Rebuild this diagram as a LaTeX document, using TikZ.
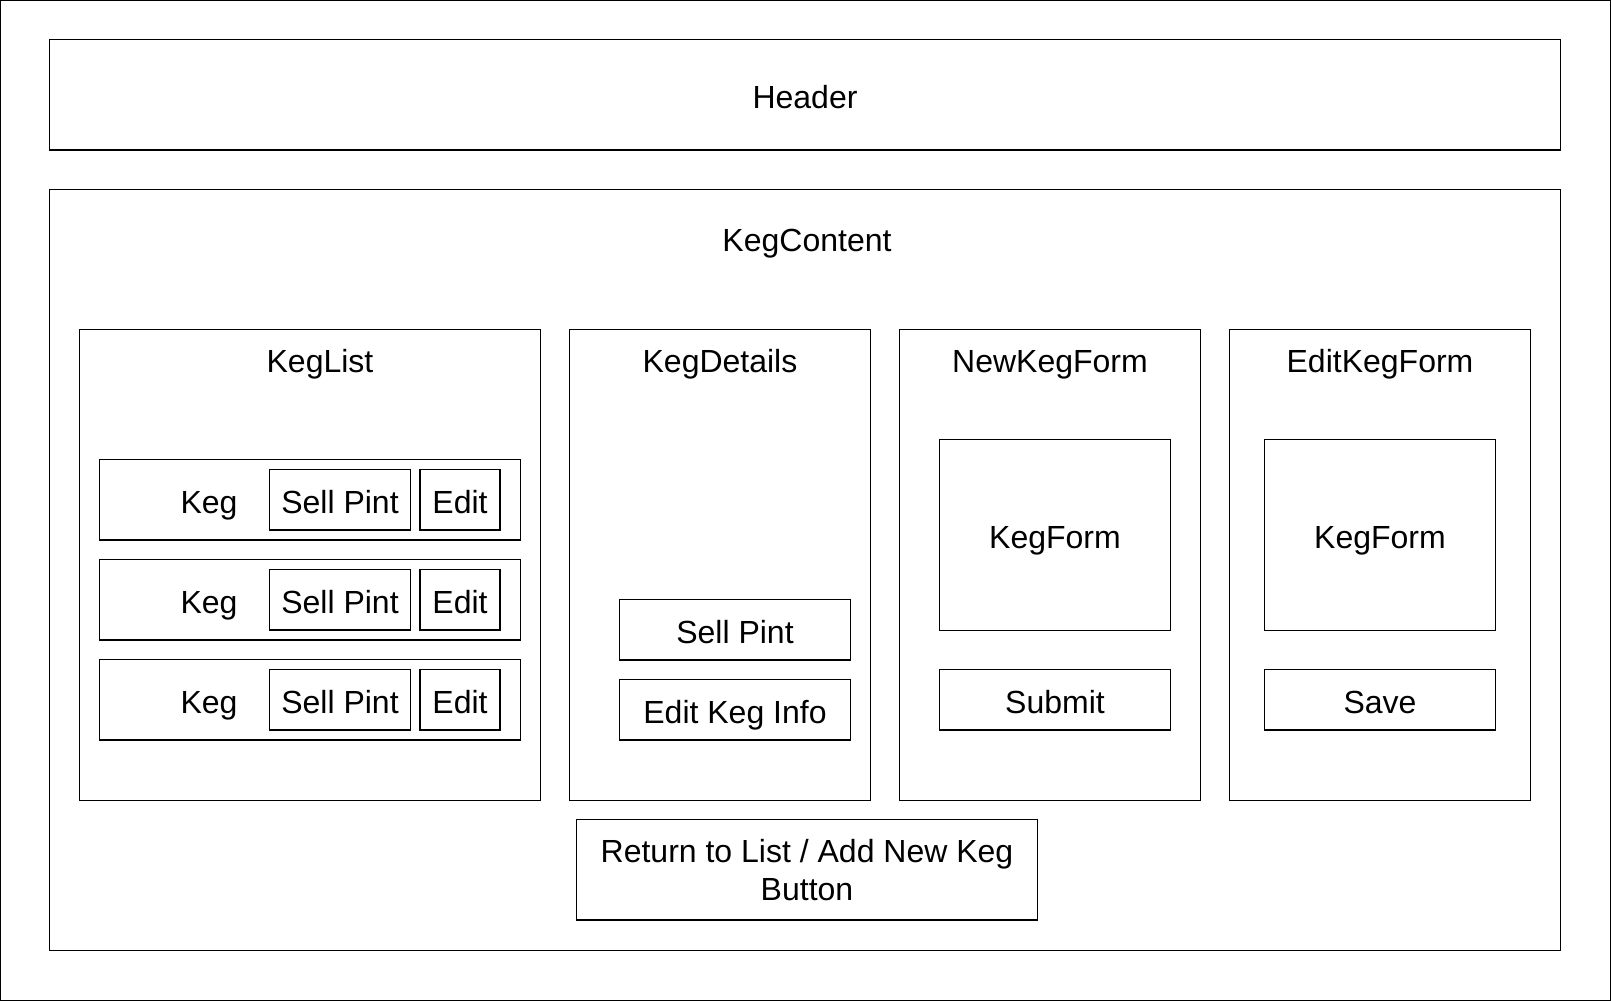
\documentclass[tikz,border=0pt]{standalone}
\usepackage{fontspec}
\setmainfont{Liberation Sans}
\begin{document}
\begin{tikzpicture}[x=0.01cm,y=-0.01cm]
\tikzstyle{every node}+=[inner sep=0pt,font=\fontsize{9.1}{10.8}\selectfont]
\tikzstyle{box}=[draw=black,line width=0.3pt]
\tikzstyle{txt}=[text height=8.5pt,text depth=0.8pt]
\useasboundingbox (0,0) rectangle (1611,1001);
\draw [black,line width=0.3pt] (0.5,0.5) rectangle (1610.5,1000.5);
\node [box,txt,minimum width=15.1cm,minimum height=1.1cm] (header) at (805,95) {Header};
\node [box,minimum width=15.1cm,minimum height=7.6cm] (kegcontent) at (805,570) {};
\node [txt] (kegcontentlabel) at (807,238) {KegContent};
\node [box,minimum width=4.6cm,minimum height=4.7cm] (keglist) at (310,565) {};
\node [txt] (keglistlabel) at (320,359) {KegList};
\node [box,minimum width=4.2cm,minimum height=0.8cm] (kegrow1) at (310,500) {};
\node [txt] (keg1) at (209,500) {Keg};
\node [box,txt,minimum width=1.4cm,minimum height=0.6cm] (sell1) at (340,500) {Sell Pint};
\node [box,txt,minimum width=0.8cm,minimum height=0.6cm] (edit1) at (460,500) {Edit};
\node [box,minimum width=4.2cm,minimum height=0.8cm] (kegrow2) at (310,600) {};
\node [txt] (keg2) at (209,600) {Keg};
\node [box,txt,minimum width=1.4cm,minimum height=0.6cm] (sell2) at (340,600) {Sell Pint};
\node [box,txt,minimum width=0.8cm,minimum height=0.6cm] (edit2) at (460,600) {Edit};
\node [box,minimum width=4.2cm,minimum height=0.8cm] (kegrow3) at (310,700) {};
\node [txt] (keg3) at (209,700) {Keg};
\node [box,txt,minimum width=1.4cm,minimum height=0.6cm] (sell3) at (340,700) {Sell Pint};
\node [box,txt,minimum width=0.8cm,minimum height=0.6cm] (edit3) at (460,700) {Edit};
\node [box,minimum width=3cm,minimum height=4.7cm] (kegdetails) at (720,565) {};
\node [txt] (kegdetailslabel) at (720,359) {KegDetails};
\node [box,txt,minimum width=2.3cm,minimum height=0.6cm] (detailsell) at (735,630) {Sell Pint};
\node [box,txt,minimum width=2.3cm,minimum height=0.6cm] (detailedit) at (735,710) {Edit Keg Info};
\node [box,minimum width=3cm,minimum height=4.7cm] (newkegform) at (1050,565) {};
\node [txt] (newkegformlabel) at (1050,359) {NewKegForm};
\node [box,txt,minimum width=2.3cm,minimum height=1.9cm] (newform) at (1055,535) {KegForm};
\node [box,txt,minimum width=2.3cm,minimum height=0.6cm] (submit) at (1055,700) {Submit};
\node [box,minimum width=3cm,minimum height=4.7cm] (editkegform) at (1380,565) {};
\node [txt] (editkegformlabel) at (1380,359) {EditKegForm};
\node [box,txt,minimum width=2.3cm,minimum height=1.9cm] (editform) at (1380,535) {KegForm};
\node [box,txt,minimum width=2.3cm,minimum height=0.6cm] (save) at (1380,700) {Save};
\node [box,minimum width=4.6cm,minimum height=1cm,align=center] (returnbtn) at (807,870) {Return to List / Add New Keg\\Button};
\end{tikzpicture}
\end{document}
